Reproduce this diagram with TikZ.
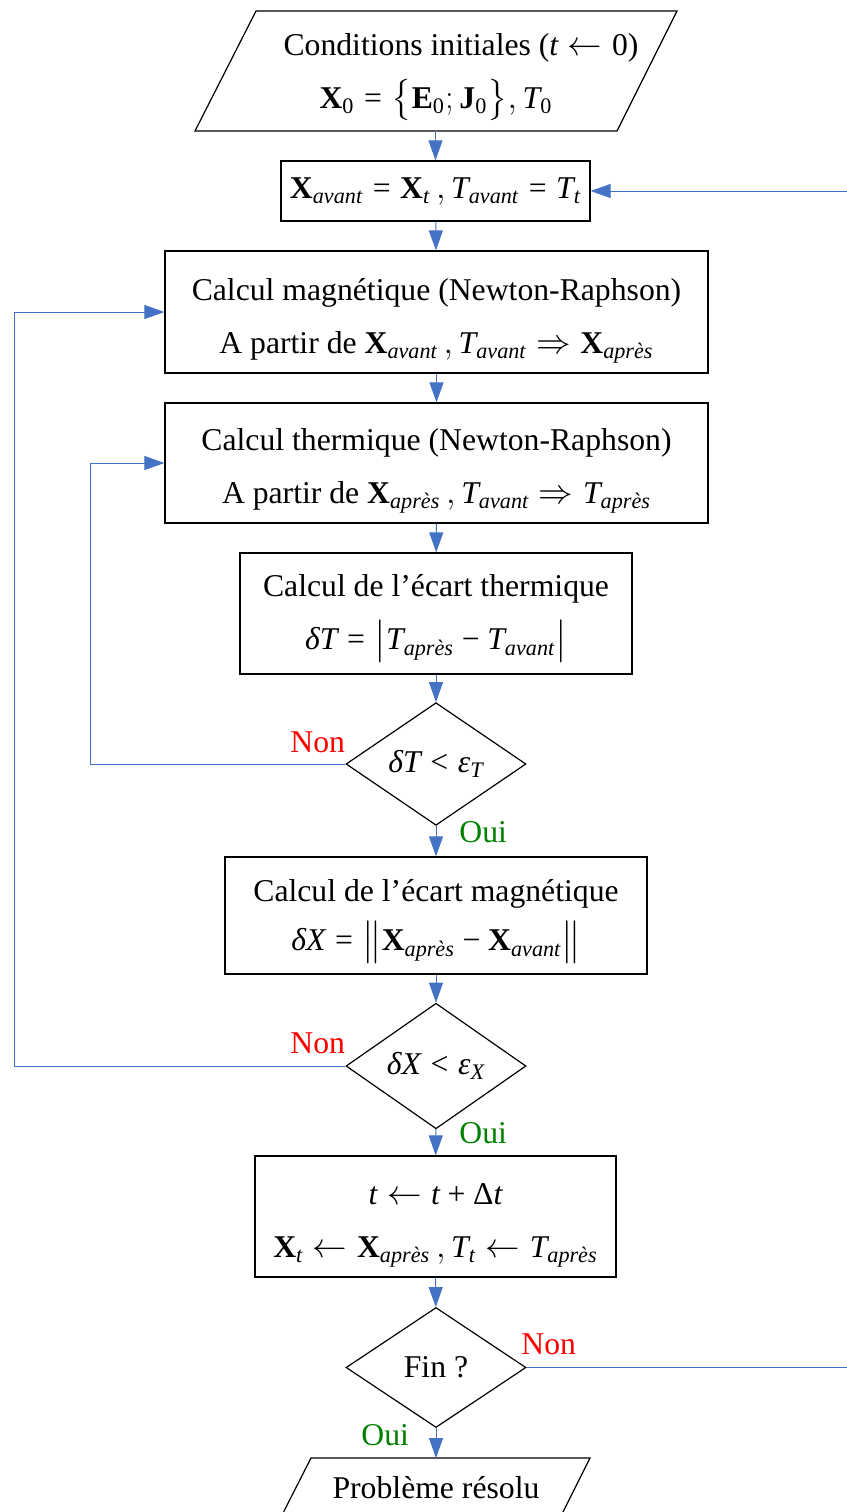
\documentclass[tikz,border=0pt]{standalone}
\usepackage{amsmath}
\usepackage{fontspec}
\setmainfont{Liberation Serif}
\usetikzlibrary{arrows.meta,shapes.geometric}
\definecolor{lnblue}{HTML}{4472C4}
\definecolor{nonred}{HTML}{FF0000}
\definecolor{ouigreen}{HTML}{008000}
\newcommand\vX{\textbf{X}}
\newcommand\vE{\textbf{E}}
\newcommand\vJ{\textbf{J}}
\newcommand\ti[1]{\textit{#1}}
\newcommand\tu[1]{\textup{#1}}
\newcommand\av{_{\ti{avant}}}
\newcommand\ap{_{\ti{après}}}
\newcommand\teq{\mathrel{\tu{=}}}
\newcommand\tla{\mathrel{\leftarrow}}
\newcommand\tmi{\mathbin{\tu{−}}}
\newcommand\tpl{\mathbin{\tu{+}}}
\newcommand\tlt{\mathrel{\tu{<}}}
\newcommand\topstrut[1]{\rule{0pt}{#1}}
\begin{document}
\begin{tikzpicture}[x=0.5pt,y=-0.5pt,
  every node/.style={font=\fontsize{15.85}{26.5}\selectfont},
  procbox/.style={draw=black, line width=0.6pt, rectangle, inner sep=0pt, align=center},
  testbox/.style={draw=black, line width=0.6pt, diamond, inner sep=0pt, minimum width=90pt, minimum height=60pt, align=center},
  ioshape/.style={draw=black, line width=0.6pt},
  plain/.style={inner sep=0pt, align=center},
  flow/.style={draw=lnblue, line width=0.5pt, -{Triangle[length=10pt,width=7pt]}},
  nonlab/.style={text=nonred, anchor=base west, inner sep=0pt},
  ouilab/.style={text=ouigreen, anchor=base west, inner sep=0pt}]
\useasboundingbox (0,0) rectangle (847,1512);
\clip (0,0) rectangle (847,1512);

% input / output parallelograms
\draw[ioshape] (256,11) -- (677,11) -- (617,131) -- (195,131) -- cycle;
\coordinate (p1) at (436,131);
\node[plain] (p1t) at (436,77) {\hspace*{25pt}Conditions initiales ($\ti{t}\tla\tu{0}$)\\ $\vX_{\tu{0}}\teq\bigl\{\vE_{\tu{0}};\vJ_{\tu{0}}\bigr\},\ti{T}_{\tu{0}}$};

\draw[ioshape] (311,1458) -- (590,1458) -- (530,1578) -- (250,1578) -- cycle;
\coordinate (p2) at (436,1458);
\node[plain] (p2t) at (436,1488) {Problème résolu};

% process boxes and tests
\node[procbox, minimum width=154.5pt, minimum height=30pt] (b2) at (435.5,191)
  {\topstrut{11pt}$\vX\av\teq\vX_{\ti{t}}\,,\ti{T}\av\teq\ti{T}_{\ti{t}}$};

\node[procbox, minimum width=271.5pt, minimum height=61pt] (b3) at (436.5,312)
  {\topstrut{20pt}Calcul magnétique (Newton-Raphson)\\ A partir de $\vX\av\,,\ti{T}\av\Rightarrow\vX\ap$};

\node[procbox, minimum width=271.5pt, minimum height=60pt] (b4) at (436.5,463)
  {\topstrut{19pt}Calcul thermique (Newton-Raphson)\\ A partir de $\vX\ap\,,\ti{T}\av\Rightarrow\ti{T}\ap$};

\node[procbox, minimum width=196pt, minimum height=60.5pt] (b5) at (436,613.5)
  {\topstrut{16pt}Calcul de l’écart thermique\\ $\ti{δT}\teq\bigl|\ti{T}\ap\tmi\ti{T}\av\bigr|$};

\node[testbox] (d1) at (436,764) {$\ti{δT}\tlt\ti{ε}_{\ti{T}}$};

\node[procbox, minimum width=211pt, minimum height=58.5pt] (b6) at (436,915.5)
  {\topstrut{17pt}Calcul de l’écart magnétique\\[-2pt] $\ti{δX}\teq\bigl\|\vX\ap\tmi\vX\av\bigr\|$};

\node[testbox] (d2) at (436,1066) {$\ti{δX}\tlt\ti{ε}_{\ti{X}}$};

\node[procbox, minimum width=180.5pt, minimum height=60.5pt] (b7) at (435.5,1216.5)
  {\topstrut{19pt}$\ti{t}\tla\ti{t}\tpl\tu{Δ}\ti{t}$\\ $\vX_{\ti{t}}\tla\vX\ap\,,\ti{T}_{\ti{t}}\tla\ti{T}\ap$};

\node[testbox] (d3) at (436,1367.5) {Fin ?};

% branch labels
\node[nonlab] (n1) at (290,752) {Non};
\node[ouilab] (o1) at (459,842) {Oui};
\node[nonlab] (n2) at (290,1053) {Non};
\node[ouilab] (o2) at (459,1143) {Oui};
\node[nonlab] (n3) at (521,1354) {Non};
\node[ouilab] (o3) at (361,1445) {Oui};

% helper coordinates for loops
\coordinate (k1) at (90,0);
\coordinate (k2) at (14,0);
\coordinate (k3) at (870,0);

% main flow
\draw[flow] (p1) -- (p1 -| b2.north) -- (b2.north);
\draw[flow] (b2) -- (b3);
\draw[flow] (b3) -- (b4);
\draw[flow] (b4) -- (b5);
\draw[flow] (b5) -- (d1);
\draw[flow] (d1) -- (b6);
\draw[flow] (b6) -- (d2);
\draw[flow] (d2) -- (b7);
\draw[flow] (b7) -- (d3);
\draw[flow] (d3.south) -- (p2);

% loops
\draw[flow] (d1.west) -- (d1.west -| k1) |- (b4.west);
\draw[flow] (d2.west) -- (d2.west -| k2) |- (b3.west);
\draw[flow] (d3.east) -- (d3.east -| k3) |- (b2.east);
\end{tikzpicture}
\end{document}
